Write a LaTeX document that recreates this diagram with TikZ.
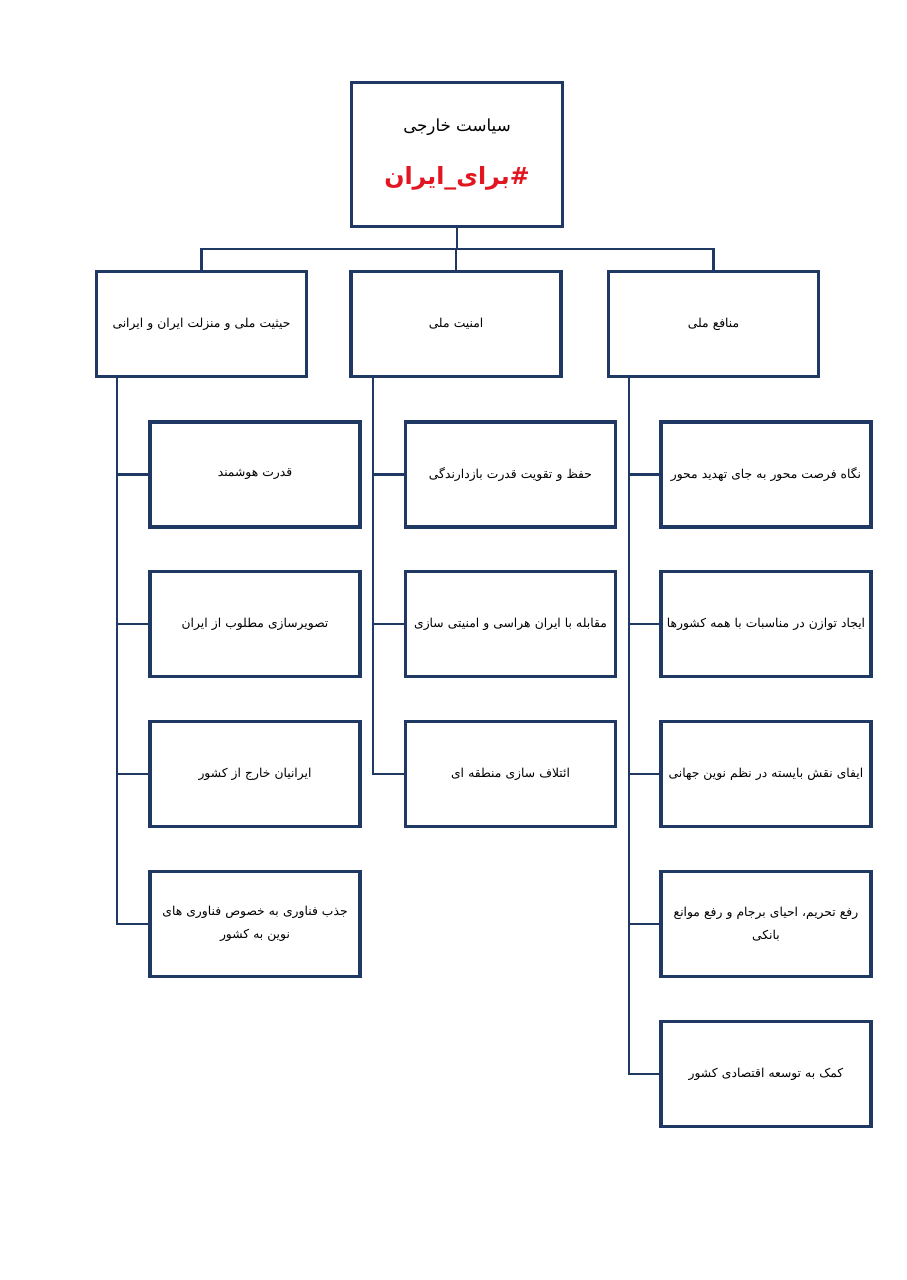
\documentclass[tikz,border=0pt]{standalone}
\usepackage{fontspec}
\newfontfamily\farsifont[Script=Arabic]{DejaVu Sans}
\TeXXeTstate=1
\usetikzlibrary{positioning}
\definecolor{boxblue}{RGB}{31,56,100}
\definecolor{hashred}{RGB}{226,22,32}
\newcommand{\fa}[1]{\beginR #1\endR}
\newcommand{\goal}[4]{\node[goalbox] (#1) at ( #2 , #3 ) {#4};}
\tikzset{
  topbox/.style={draw=boxblue, line width=2pt, fill=white, align=center,
    minimum width=4.22cm, minimum height=2.88cm, font=\farsifont\fontsize{9.5}{11}\selectfont},
  secbox/.style={draw=boxblue, line width=2pt, fill=white, align=center,
    inner xsep=0.04cm, text width=4.12cm, minimum height=2.1cm,
    font=\farsifont\fontsize{7}{13}\selectfont},
  goalbox/.style={secbox},
  link/.style={draw=boxblue, line width=1.2pt}
}
\begin{document}
\begin{tikzpicture}[x=0.02cm, y=-0.02cm]
  \useasboundingbox (0,0) rectangle (906,1280);

  % title
  \node[topbox] (top) at (457,154.5) {\fa{سیاست خارجی}\\[0.6cm]
    {\color{hashred}\bfseries\fontsize{13.5}{15}\selectfont\fa{\#برای\_ایران}}};

  % second level
  \node[secbox] (hon) at (201.5,324) {\fa{حیثیت ملی و منزلت ایران و ایرانی}};
  \node[secbox] (sec) at (456,324) {\fa{امنیت ملی}};
  \node[secbox] (nat) at (713.5,324) {\fa{منافع ملی}};

  \coordinate (bus) at (457,249);
  \draw[link] (top.south) -- (bus);
  \draw[link] (bus) -| (hon.north);
  \draw[link] (bus) -| (sec.north);
  \draw[link] (bus) -| (nat.north);

  % left column
  \goal{h1}{255}{474.5}{\fa{قدرت هوشمند}}
  \goal{h2}{255}{624}{\fa{تصویرسازی مطلوب از ایران}}
  \goal{h3}{255}{774}{\fa{ایرانیان خارج از کشور}}
  \goal{h4}{255}{924}{\fa{جذب فناوری به خصوص فناوری های}\\\fa{نوین به کشور}}

  % middle column
  \goal{s1}{510.5}{474.5}{\fa{حفظ و تقویت قدرت بازدارندگی}}
  \goal{s2}{510.5}{624}{\fa{مقابله با ایران هراسی و امنیتی سازی}}
  \goal{s3}{510.5}{774}{\fa{ائتلاف سازی منطقه ای}}

  % right column
  \goal{n1}{766}{474.5}{\fa{نگاه فرصت محور به جای تهدید محور}}
  \goal{n2}{766}{624}{\fa{ایجاد توازن در مناسبات با همه کشورها}}
  \goal{n3}{766}{774}{\fa{ایفای نقش بایسته در نظم نوین جهانی}}
  \goal{n4}{766}{924}{\fa{رفع تحریم، احیای برجام و رفع موانع}\\\fa{بانکی}}
  \goal{n5}{766}{1074}{\fa{کمک به توسعه اقتصادی کشور}}

  % trunks
  \draw[link] ([xshift=0.44cm]hon.south west) |- (h1.west);
  \draw[link] ([xshift=0.44cm]hon.south west) |- (h2.west);
  \draw[link] ([xshift=0.44cm]hon.south west) |- (h3.west);
  \draw[link] ([xshift=0.44cm]hon.south west) |- (h4.west);

  \draw[link] ([xshift=0.48cm]sec.south west) |- (s1.west);
  \draw[link] ([xshift=0.48cm]sec.south west) |- (s2.west);
  \draw[link] ([xshift=0.48cm]sec.south west) |- (s3.west);

  \draw[link] ([xshift=0.44cm]nat.south west) |- (n1.west);
  \draw[link] ([xshift=0.44cm]nat.south west) |- (n2.west);
  \draw[link] ([xshift=0.44cm]nat.south west) |- (n3.west);
  \draw[link] ([xshift=0.44cm]nat.south west) |- (n4.west);
  \draw[link] ([xshift=0.44cm]nat.south west) |- (n5.west);
\end{tikzpicture}
\end{document}
